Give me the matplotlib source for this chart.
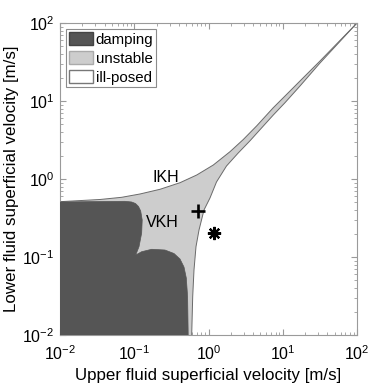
import matplotlib

matplotlib.use("Agg")
import matplotlib.pyplot as plt  # noqa: E402
from matplotlib.patches import Patch  # noqa: E402

plt.rcParams["font.family"] = ["Liberation Sans", "DejaVu Sans"]
plt.rcParams["mathtext.default"] = "regular"

# boundary of the unstable (light) region: IKH curve, left to right
ikh_x = [0.01, 0.03457, 0.06776, 0.1195, 0.2222, 0.4132, 0.6937, 1.160,
         1.948, 2.942, 4.459, 7.390, 11.41, 17.07, 31.75, 100.0]
ikh_y = [0.512, 0.5461, 0.5826, 0.6424, 0.7378, 0.8965, 1.125, 1.511,
         2.239, 3.209, 4.80, 8.133, 12.29, 18.05, 32.57, 100.0]

# VKH / ill-posed boundary, top right down to the bottom axis
vkh_x = [100.0, 31.75, 17.07, 10.72, 7.458, 4.459, 3.622, 2.496, 1.747,
         1.281, 1.047, 0.8697, 0.7451, 0.6785, 0.6377, 0.6126, 0.5938]
vkh_y = [100.0, 30.70, 15.57, 9.511, 6.614, 3.85, 3.09, 2.14, 1.468,
         0.9152, 0.5708, 0.4006, 0.2219, 0.1355, 0.06812, 0.03097, 0.01]

# damping region outline
damp_x = [0.01, 0.01, 0.03457, 0.07504, 0.0924, 0.1039, 0.1141, 0.1221,
          0.1280, 0.1259, 0.1159, 0.1046, 0.1259, 0.1718, 0.2595, 0.3430,
          0.4132, 0.4677, 0.5024, 0.5232, 0.5329]
damp_y = [0.01, 0.5071, 0.5146, 0.5176, 0.5071, 0.4853, 0.4441, 0.3888,
          0.2981, 0.2031, 0.1355, 0.1060, 0.1169, 0.1256, 0.1229, 0.1109,
          0.09427, 0.07441, 0.05379, 0.03097, 0.01]

# operating points
plus_pt = (0.711, 0.394)
star_pt = (1.186, 0.201)

DARK = "#555555"
LIGHT = "#cdcdcd"
EDGE = "#6a6a6a"
AXIS = "#9a9a9a"
FS = 11.5
LABEL_FS = 12.2
LEG_FS = 10.8

fig = plt.figure(figsize=(3.74, 3.88), dpi=100)
ax = fig.add_axes([60 / 374, 53 / 388, 297 / 374, 312 / 388])

unst_x = ikh_x + vkh_x + [0.01]
unst_y = ikh_y + vkh_y + [0.01]
ax.fill(unst_x, unst_y, color=LIGHT, lw=0, zorder=1)
ax.plot(ikh_x, ikh_y, color=EDGE, lw=0.7, zorder=2)
ax.plot(vkh_x, vkh_y, color=EDGE, lw=0.7, zorder=2)
ax.fill(damp_x, damp_y, facecolor=DARK, edgecolor=DARK, lw=0.5, zorder=3)

ax.plot(*plus_pt, marker="+", color="black", ms=10, mew=1.9, zorder=5)
ax.plot(*star_pt, marker=(8, 2, 0), color="black", ms=9.5, mew=1.6, zorder=5)

ax.text(0.266, 1.035, "IKH", fontsize=FS, ha="center", va="center", zorder=6)
ax.text(0.240, 0.277, "VKH", fontsize=FS, ha="center", va="center", zorder=6)

ax.set_xscale("log")
ax.set_yscale("log")
ax.set_xlim(0.01, 100)
ax.set_ylim(0.01, 100)

for s in ax.spines.values():
    s.set_color(AXIS)
    s.set_linewidth(0.8)
ax.tick_params(which="both", direction="in", top=True, right=True, colors=AXIS,
               labelcolor="black", labelsize=FS)
ax.tick_params(which="major", length=4)
ax.tick_params(which="minor", length=2)
ax.tick_params(axis="x", which="major", pad=7)
ax.tick_params(axis="y", which="major", pad=4)

ax.set_xlabel("Upper fluid superficial velocity [m/s]", fontsize=LABEL_FS, labelpad=3)
ax.set_ylabel("Lower fluid superficial velocity [m/s]", fontsize=LABEL_FS, labelpad=2)

handles = [
    Patch(facecolor=DARK, edgecolor="#444444", label="damping"),
    Patch(facecolor=LIGHT, edgecolor="#aaaaaa", label="unstable"),
    Patch(facecolor="white", edgecolor="#777777", label="ill-posed"),
]
leg = ax.legend(handles=handles, loc="upper left", fontsize=LEG_FS, fancybox=False,
                framealpha=1, edgecolor="#8c8c8c", borderaxespad=0.4,
                handlelength=1.65, handleheight=1.0, handletextpad=0.15,
                labelspacing=0.28, borderpad=0.18)
leg.get_frame().set_linewidth(0.8)

fig.savefig("out.png", dpi=100)
